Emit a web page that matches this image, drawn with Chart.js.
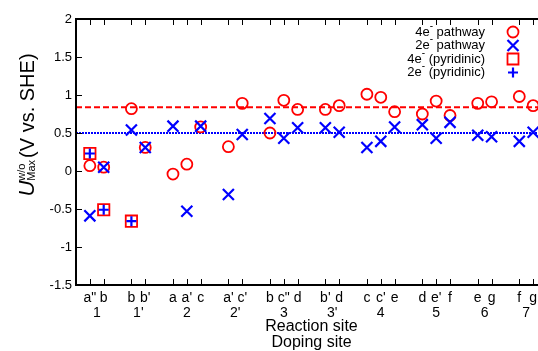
<!DOCTYPE html>
<html>
<head>
<meta charset="utf-8">
<script src="https://cdn.jsdelivr.net/npm/chart.js@4.4.0/dist/chart.umd.min.js"></script>
<style>
  html, body { margin: 0; padding: 0; overflow: hidden; background: #fff; }
</style>
</head>
<body>
<canvas id="myChart" width="560" height="351"></canvas>
<script>
// =====> Data <=====
// reaction site letter for every tick, and the doping site it belongs to
const sites = ['a"', 'b', 'b', "b'", 'a', "a'", 'c', "a'", "c'", 'b', 'c"', 'd', "b'", 'd', 'c', "c'", 'e', 'd', "e'", 'f', 'e', 'g', 'f', 'g'];
const siteGroup = ['1', '1', "1'", "1'", '2', '2', '2', "2'", "2'", '3', '3', '3', "3'", "3'", '4', '4', '4', '5', '5', '5', '6', '6', '7', '7'];

// U max (V vs. SHE) per site
const fourE = [0.07, 0.05, 0.82, 0.31, -0.04, 0.09, 0.58, 0.32, 0.89, 0.50, 0.93, 0.81, 0.81, 0.86, 1.01, 0.97, 0.78, 0.75, 0.92, 0.73, 0.89, 0.91, 0.98, 0.86];
const twoE = [-0.59, 0.05, 0.54, 0.31, 0.59, -0.53, 0.59, -0.31, 0.48, 0.69, 0.43, 0.57, 0.57, 0.51, 0.31, 0.39, 0.58, 0.61, 0.43, 0.64, 0.47, 0.45, 0.39, 0.51];
const fourEPyr = [0.23, -0.51, -0.66, null, null, null, null, null, null, null, null, null, null, null, null, null, null, null, null, null, null, null, null, null];
const twoEPyr = [0.23, -0.51, -0.66, null, null, null, null, null, null, null, null, null, null, null, null, null, null, null, null, null, null, null, null, null];

// reference levels
const fourELevel = 0.84;
const twoELevel = 0.50;

const yTicks = [-1.5, -1, -0.5, 0, 0.5, 1, 1.5, 2];
// =====> Data <=====

const FONT = "'Liberation Sans', Arial, Helvetica, sans-serif";
const RED = '#ff0000';
const BLUE = '#0000ff';

// x position of each site: one empty slot between doping groups
const groupNames = [];
const sitePos = [];
let gi = -1;
siteGroup.forEach((g, i) => {
  if (groupNames[groupNames.length - 1] !== g) { groupNames.push(g); gi++; }
  sitePos.push(i + gi);
});
const xMin = sitePos[0] - 1;
const xMax = sitePos[sitePos.length - 1] + 1;

function pts(arr) {
  const out = [];
  arr.forEach((v, i) => { if (v !== null) out.push({ x: sitePos[i], y: v }); });
  return out;
}

const marker = (label, data, style, radius, color, width) => ({
  type: 'scatter',
  label: label,
  data: data,
  pointStyle: style,
  pointRadius: radius,
  pointHoverRadius: radius,
  borderColor: color,
  backgroundColor: 'rgba(0,0,0,0)',
  pointBorderWidth: width,
  borderWidth: width,
  showLine: false
});

const level = (value, color, dash) => ({
  type: 'line',
  data: [{ x: xMin, y: value }, { x: xMax, y: value }],
  borderColor: color,
  borderWidth: 2,
  borderDash: dash,
  pointRadius: 0,
  fill: false
});

// draws frame, inward ticks, group numbers, titles and legend
const decor = {
  id: 'decor',
  afterDraw(chart) {
    const ctx = chart.ctx;
    const a = chart.chartArea;
    const xs = chart.scales.x, ys = chart.scales.y;
    ctx.save();
    ctx.strokeStyle = '#000';
    ctx.lineWidth = 2;
    ctx.strokeRect(a.left, a.top, a.right - a.left, a.bottom - a.top);

    ctx.lineWidth = 1;
    ctx.beginPath();
    sitePos.forEach(p => {
      const px = Math.round(xs.getPixelForValue(p)) + 0.5;
      ctx.moveTo(px, a.bottom); ctx.lineTo(px, a.bottom - 6);
      ctx.moveTo(px, a.top); ctx.lineTo(px, a.top + 6);
    });
    yTicks.forEach(v => {
      const py = Math.round(ys.getPixelForValue(v)) + 0.5;
      ctx.moveTo(a.left, py); ctx.lineTo(a.left + 6, py);
      ctx.moveTo(a.right, py); ctx.lineTo(a.right - 6, py);
    });
    ctx.stroke();

    // doping site numbers
    ctx.fillStyle = '#000';
    ctx.font = '14px ' + FONT;
    ctx.textAlign = 'center';
    ctx.textBaseline = 'middle';
    groupNames.forEach(g => {
      const ps = sitePos.filter((p, i) => siteGroup[i] === g);
      const mid = ps.reduce((s, p) => s + xs.getPixelForValue(p), 0) / ps.length;
      ctx.fillText(g, mid, 313);
    });

    // x titles
    const cx = (a.left + a.right) / 2;
    ctx.font = '16px ' + FONT;
    ctx.fillText('Reaction site', cx, 327);
    ctx.fillText('Doping site', cx, 343);

    // y title
    ctx.save();
    ctx.translate(34, 125);
    ctx.rotate(-Math.PI / 2);
    ctx.textAlign = 'left';
    ctx.textBaseline = 'alphabetic';
    const fU = 'italic 22px ' + FONT, fS = '11px ' + FONT, fR = '20px ' + FONT;
    ctx.font = fU; const wU = ctx.measureText('U').width;
    ctx.font = fS; const wS = Math.max(ctx.measureText('Max').width, ctx.measureText('w/o').width);
    ctx.font = fR; const wR = ctx.measureText('(V vs. SHE)').width;
    const gap = 2;
    let x0 = -(wU + wS + gap + wR) / 2;
    ctx.font = fU; ctx.fillText('U', x0, 0);
    x0 += wU;
    ctx.font = fS;
    ctx.fillText('Max', x0, 1);
    ctx.fillText('w/o', x0, -9);
    x0 += wS + gap;
    ctx.font = fR; ctx.fillText('(V vs. SHE)', x0, 0);
    ctx.restore();

    // legend
    const rows = [
      ['4e', ' pathway', 'circle'],
      ['2e', ' pathway', 'crossRot'],
      ['4e', ' (pyridinic)', 'rect'],
      ['2e', ' (pyridinic)', 'cross']
    ];
    const textRight = 485, mx = 513;
    ctx.textAlign = 'left';
    ctx.textBaseline = 'middle';
    rows.forEach((r, i) => {
      const y = 32 + i * 13.5;
      ctx.font = '13px ' + FONT;
      const w1 = ctx.measureText(r[0]).width;
      const w3 = ctx.measureText(r[1]).width;
      ctx.font = '10px ' + FONT;
      const w2 = ctx.measureText('-').width;
      let x = textRight - (w1 + w2 + w3);
      ctx.font = '13px ' + FONT;
      ctx.fillText(r[0], x, y);
      ctx.font = '10px ' + FONT;
      ctx.fillText('-', x + w1, y - 6);
      ctx.font = '13px ' + FONT;
      ctx.fillText(r[1], x + w1 + w2, y);

      const isRed = r[2] === 'circle' || r[2] === 'rect';
      ctx.strokeStyle = isRed ? RED : BLUE;
      ctx.lineWidth = isRed ? 1.8 : 2.2;
      ctx.beginPath();
      if (r[2] === 'circle') {
        ctx.arc(mx, y, 5.5, 0, Math.PI * 2);
      } else if (r[2] === 'crossRot') {
        ctx.moveTo(mx - 5.5, y - 5.5); ctx.lineTo(mx + 5.5, y + 5.5);
        ctx.moveTo(mx + 5.5, y - 5.5); ctx.lineTo(mx - 5.5, y + 5.5);
      } else if (r[2] === 'rect') {
        ctx.rect(mx - 5.5, y - 5.5, 11, 11);
      } else {
        ctx.moveTo(mx - 5, y); ctx.lineTo(mx + 5, y);
        ctx.moveTo(mx, y - 5); ctx.lineTo(mx, y + 5);
      }
      ctx.stroke();
    });
    ctx.restore();
  }
};

const ctx = document.getElementById('myChart').getContext('2d');

const chart = new Chart(ctx, {
  data: {
    datasets: [
      marker('2e- (pyridinic)', pts(twoEPyr), 'cross', 5, BLUE, 2.2),
      marker('4e- (pyridinic)', pts(fourEPyr), 'rect', 8, RED, 1.8),
      marker('2e- pathway', pts(twoE), 'crossRot', 7.8, BLUE, 2.2),
      marker('4e- pathway', pts(fourE), 'circle', 5.5, RED, 1.8),
      level(fourELevel, RED, [6, 3]),
      level(twoELevel, BLUE, [2, 1])
    ]
  },
  options: {
    responsive: false,
    animation: false,
    events: [],
    layout: { padding: { top: 19, right: 13, left: 0, bottom: 0 } },
    plugins: {
      legend: { display: false },
      tooltip: { enabled: false }
    },
    scales: {
      x: {
        type: 'linear',
        min: xMin,
        max: xMax,
        afterBuildTicks: s => { s.ticks = sitePos.map(v => ({ value: v })); },
        afterFit: s => { s.height = 66; },
        grid: { display: false, drawTicks: false },
        border: { display: false },
        ticks: {
          autoSkip: false,
          maxRotation: 0,
          padding: 5,
          color: '#000',
          font: { family: FONT, size: 14 },
          callback: v => sites[sitePos.indexOf(v)]
        }
      },
      y: {
        type: 'linear',
        min: -1.5,
        max: 2,
        afterBuildTicks: s => { s.ticks = yTicks.map(v => ({ value: v })); },
        afterFit: s => { s.width = 76; },
        grid: { display: false, drawTicks: false },
        border: { display: false },
        ticks: {
          padding: 4,
          color: '#000',
          font: { family: FONT, size: 13 },
          callback: v => String(v)
        }
      }
    }
  },
  plugins: [decor]
});
</script>
</body>
</html>
